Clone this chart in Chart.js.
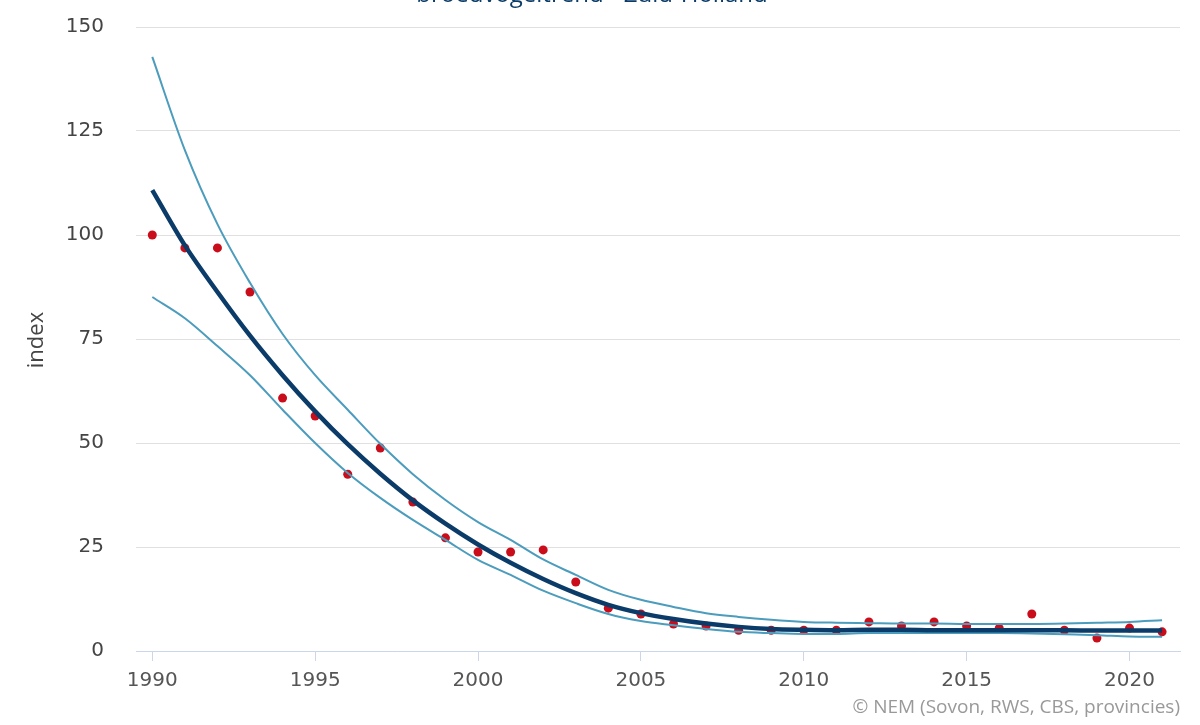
<!DOCTYPE html>
<html>
<head>
<meta charset="utf-8">
<script src="https://cdn.jsdelivr.net/npm/chart.js@4.4.1/dist/chart.umd.min.js"></script>
<style>
  html, body { margin: 0; padding: 0; background: #fff; }
  #wrap { position: relative; width: 1200px; height: 725px; }
</style>
</head>
<body>
<div id="wrap"><canvas id="c" width="1200" height="725"></canvas></div>
<script>
/* broedvogeltrend Zuid-Holland: indexwaarden per jaar, trend + betrouwbaarheidsband */
var years = [1990, 1991, 1992, 1993, 1994, 1995, 1996, 1997, 1998, 1999, 2000, 2001, 2002, 2003, 2004, 2005,
             2006, 2007, 2008, 2009, 2010, 2011, 2012, 2013, 2014, 2015, 2016, 2017, 2018, 2019, 2020, 2021];
var indexValues = [100, 96.9, 96.9, 86.3, 60.8, 56.5, 42.5, 48.8, 35.8, 27.2, 23.8, 23.8, 24.3, 16.6, 10.3, 8.9,
                   6.5, 6.0, 5.0, 5.0, 5.0, 5.0, 7.0, 6.0, 7.0, 6.0, 5.5, 8.9, 5.0, 3.1, 5.5, 4.6];
var trend = [110.8, 97.5, 86.3, 75.8, 66.3, 57.6, 49.7, 42.6, 36.2, 30.6, 25.6, 21.2, 17.3, 13.9, 11.1, 9.1,
             7.7, 6.6, 5.8, 5.3, 5.1, 5.0, 5.1, 5.1, 5.0, 5.0, 5.0, 5.0, 5.0, 4.9, 4.9, 4.9];
var upper = [142.8, 120.4, 102.6, 88.5, 76.2, 66.3, 58.0, 49.8, 42.5, 36.3, 31.0, 26.7, 22.0, 18.3, 14.7, 12.3,
             10.6, 9.1, 8.2, 7.5, 7.0, 6.8, 6.7, 6.6, 6.6, 6.5, 6.5, 6.5, 6.6, 6.8, 7.0, 7.4];
var lower = [85.1, 80.0, 73.3, 66.3, 58.0, 50.0, 42.8, 36.8, 31.5, 26.7, 21.9, 18.3, 14.5, 11.5, 8.9, 7.2,
             6.2, 5.3, 4.6, 4.3, 4.1, 4.1, 4.3, 4.3, 4.3, 4.3, 4.3, 4.2, 4.0, 3.8, 3.5, 3.4];
var yTicks = [0, 25, 50, 75, 100, 125, 150];
var xTicks = [1990, 1995, 2000, 2005, 2010, 2015, 2020];

var NAVY = '#0b3c69', TEAL = '#4b9cbd', RED = '#c90d1b';

function pts(vals) { return years.map(function (y, i) { return { x: y, y: vals[i] }; }); }

/* teksten die niet bij een as horen: titel (half buiten beeld), y-astitel, bronvermelding */
var labels = {
  id: 'labels',
  afterDraw: function (chart) {
    var ctx = chart.ctx;
    ctx.save();
    ctx.fillStyle = NAVY;
    ctx.font = '24px "Open Sans"';
    ctx.textAlign = 'center';
    ctx.textBaseline = 'alphabetic';
    ctx.fillText('broedvogeltrend - Zuid-Holland', 592, 2);

    ctx.fillStyle = '#999';
    ctx.font = '19px "Open Sans"';
    ctx.textAlign = 'right';
    ctx.textBaseline = 'middle';
    ctx.fillText('\u00a9 NEM (Sovon, RWS, CBS, provincies)', 1180, 708);

    ctx.translate(37, 340);
    ctx.rotate(-Math.PI / 2);
    ctx.fillStyle = '#444';
    ctx.font = '22px "Open Sans"';
    ctx.textAlign = 'center';
    ctx.fillText('index', 0, 0);
    ctx.restore();
  }
};

new Chart(document.getElementById('c'), {
  type: 'line',
  data: {
    datasets: [
      { label: 'index', type: 'scatter', data: pts(indexValues), backgroundColor: RED, borderColor: RED,
        pointRadius: 4.5, pointBorderWidth: 0, order: 3 },
      { label: 'bovengrens', data: pts(upper), borderColor: TEAL, borderWidth: 2, pointRadius: 0,
        cubicInterpolationMode: 'monotone', fill: false, order: 2 },
      { label: 'ondergrens', data: pts(lower), borderColor: TEAL, borderWidth: 2, pointRadius: 0,
        cubicInterpolationMode: 'monotone', fill: false, order: 2 },
      { label: 'trend', data: pts(trend), borderColor: NAVY, borderWidth: 4.5, pointRadius: 0,
        cubicInterpolationMode: 'monotone', fill: false, order: 1 }
    ]
  },
  options: {
    responsive: false, animation: false, devicePixelRatio: 1,
    layout: { padding: { top: 27, right: 20, left: 0, bottom: 0 } },
    plugins: { legend: { display: false }, tooltip: { enabled: false }, title: { display: false } },
    scales: {
      x: {
        type: 'linear', min: 1989.5, max: 2021.55,
        afterBuildTicks: function (s) { s.ticks = xTicks.map(function (v) { return { value: v }; }); },
        afterFit: function (s) { s.height = 74; s.paddingLeft = 0; s.paddingRight = 0; },
        grid: { drawOnChartArea: false, drawTicks: true, tickLength: 10, color: '#ccd6eb', lineWidth: 1 },
        border: { display: true, color: '#ccd6eb', width: 1 },
        ticks: { color: '#555', font: { family: 'DejaVu Sans', size: 20 }, padding: 8, maxRotation: 0,
                 callback: function (v) { return String(v); } }
      },
      y: {
        min: 0, max: 150,
        afterBuildTicks: function (s) { s.ticks = yTicks.map(function (v) { return { value: v }; }); },
        afterFit: function (s) { s.width = 136; s.paddingTop = 0; s.paddingBottom = 0; },
        grid: { color: '#e0e0e0', lineWidth: 1, drawTicks: false },
        border: { display: false },
        ticks: { color: '#444', font: { family: 'DejaVu Sans', size: 20 }, padding: 32 }
      }
    }
  },
  plugins: [labels]
});
</script>
</body>
</html>
